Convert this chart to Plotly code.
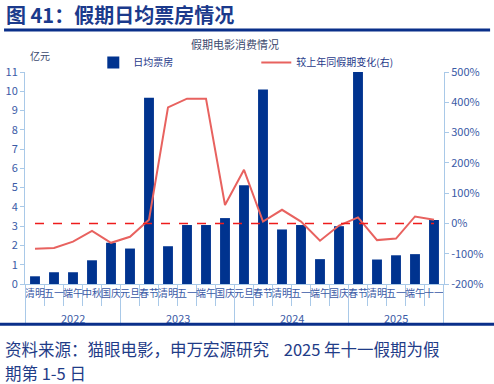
import plotly.graph_objects as go

years = ["2022"] * 5 + ["2023"] * 6 + ["2024"] * 6 + ["2025"] * 5
holidays = ["清明", "五一", "端午", "中秋", "国庆",
            "元旦", "春节", "清明", "五一", "端午", "国庆",
            "元旦", "春节", "清明", "五一", "端午", "国庆",
            "春节", "清明", "五一", "端午", "十一"]
daily_box = [0.40, 0.61, 0.61, 1.23, 2.14,
             1.84, 9.66, 1.96, 3.06, 3.06, 3.42,
             5.12, 10.09, 2.83, 3.06, 1.29, 3.00,
             11.0, 1.27, 1.49, 1.55, 3.32]
yoy_change = [-84, -81, -60, -25, -64,
              -44, 12, 383, 412, 412, 61,
              177, 6, 45, 6, -57, -7,
              20, -55, -50, 23, 12]
ref_zero = [0] * len(holidays)
left_ticks = list(range(0, 12))
right_ticks = [-200, -100, 0, 100, 200, 300, 400, 500]
right_labels = ["-200%", "-100%", "0%", "100%", "200%", "300%", "400%", "500%"]

BLUE = "#00338f"
RED = "#e8625f"
TICK = "#3a5aa6"
AXIS = "#a9c9e8"
FONT = "Noto Sans CJK SC"

keys = [f"{y}{h}" for y, h in zip(years, holidays)]

fig = go.Figure()
fig.add_trace(go.Bar(x=keys, y=daily_box, name="日均票房", marker_color=BLUE,
                     marker_line_width=0, legend="legend"))
fig.add_trace(go.Scatter(x=keys, y=yoy_change, name="较上年同假期变化(右)", yaxis="y2",
                         mode="lines", line=dict(color=RED, width=2), legend="legend2"))
fig.add_trace(go.Scatter(x=keys, y=ref_zero, yaxis="y2", mode="lines", showlegend=False,
                         line=dict(color="#ee1c1c", width=1.4, dash="dash")))

fig.update_layout(
    width=494, height=384,
    margin=dict(l=25, r=50, t=72, b=100, autoexpand=False),
    paper_bgcolor="white", plot_bgcolor="white",
    font=dict(family=FONT, size=11, color=TICK),
    bargap=0.48,
    xaxis=dict(type="category", categoryorder="array", categoryarray=keys,
               tickvals=keys, ticktext=holidays, tickangle=0, tickson="boundaries",
               showline=True, linecolor=AXIS, linewidth=1,
               ticks="outside", ticklen=21, tickcolor=AXIS, automargin=False,
               tickfont=dict(size=10, color=TICK), showgrid=False),
    yaxis=dict(range=[0, 11], tickvals=left_ticks, showgrid=False, showline=True,
               linecolor=AXIS, ticks="outside", ticklen=4, tickcolor=AXIS, automargin=False,
               tickfont=dict(size=11, color=TICK), zeroline=False),
    yaxis2=dict(range=[-200, 500], overlaying="y", side="right", tickvals=right_ticks,
                ticktext=right_labels, showgrid=False, showline=True, linecolor=AXIS,
                ticks="outside", ticklen=4, tickcolor=AXIS, automargin=False,
                tickfont=dict(size=11, color=TICK), zeroline=False),
    legend=dict(orientation="h", x=0.163, y=1.045, xanchor="left", yanchor="middle",
                font=dict(size=10, color="#1f3a8a"), bgcolor="rgba(0,0,0,0)"),
    legend2=dict(orientation="h", x=0.552, y=1.045, xanchor="left", yanchor="middle",
                 font=dict(size=10, color="#1f3a8a"), bgcolor="rgba(0,0,0,0)"),
    showlegend=True,
)

# year group labels and dividers
groups = []
for i, y in enumerate(years):
    if not groups or groups[-1][0] != y:
        groups.append([y, i, i])
    else:
        groups[-1][2] = i
for y, a, b in groups:
    fig.add_annotation(xref="x", yref="paper", x=(a + b) / 2, y=-0.16, yanchor="middle",
                       text=y, showarrow=False, font=dict(size=11, color=TICK, family=FONT))
    for bound in (a - 0.5, b + 0.5):
        fig.add_shape(type="line", xref="x", yref="paper", x0=bound, x1=bound, y0=0, y1=-0.195,
                      line=dict(color=AXIS, width=1))

# title
fig.add_annotation(xref="paper", yref="paper", x=-0.05, y=1.27, xanchor="left", yanchor="middle",
                   text="<b>图 41：假期日均票房情况</b>", showarrow=False,
                   font=dict(size=20, color="#1b3a8c", family=FONT))
fig.add_annotation(xref="paper", yref="paper", x=0.5, y=1.133, xanchor="center", yanchor="middle",
                   text="假期电影消费情况", showarrow=False,
                   font=dict(size=11, color="#3c4a6e", family=FONT))
fig.add_annotation(xref="paper", yref="paper", x=0.036, y=1.08, xanchor="center", yanchor="middle",
                   text="亿元", showarrow=False, font=dict(size=10, color="#3c4a6e", family=FONT))
fig.add_annotation(xref="paper", yref="paper", x=-0.053, y=-0.307, xanchor="left", yanchor="middle",
                   text="资料来源：猫眼电影，申万宏源研究    2025 年十一假期为假", showarrow=False,
                   font=dict(size=16.5, color="#1f3c88", family=FONT))
fig.add_annotation(xref="paper", yref="paper", x=-0.053, y=-0.42, xanchor="left", yanchor="middle",
                   text="期第 1-5 日", showarrow=False,
                   font=dict(size=16.5, color="#1f3c88", family=FONT))

# decorative rules
fig.add_shape(type="line", xref="paper", yref="paper", x0=-0.05, x1=1.11, y0=1.198, y1=1.198,
              line=dict(color="#0a2f8a", width=3))
fig.add_shape(type="line", xref="paper", yref="paper", x0=-0.06, x1=1.12, y0=-0.19, y1=-0.19,
              line=dict(color="#0a2f8a", width=3))

fig.write_html("out.html", config={"displayModeBar": False},
               post_script="document.body.style.margin='0';document.body.style.overflow='hidden';")
